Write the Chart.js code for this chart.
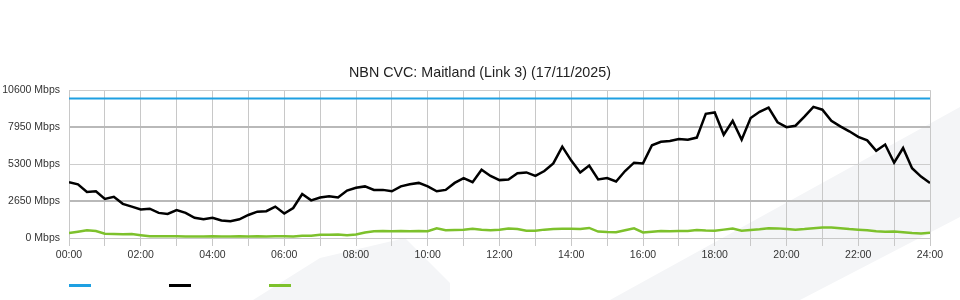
<!DOCTYPE html>
<html>
<head>
<meta charset="utf-8">
<script src="https://cdn.jsdelivr.net/npm/chart.js@4"></script>
<style>
  html, body { margin: 0; padding: 0; background: #fff; }
  #wrap { width: 960px; height: 300px; }
</style>
</head>
<body>
<div id="wrap"><canvas id="cvc"></canvas></div>
<script>
Chart.defaults.font.family = "'Liberation Sans', Arial, sans-serif";
Chart.defaults.color = '#333';

// minutes since midnight, 15 minute samples
var times = [];
for (var m = 0; m <= 1440; m += 15) times.push(m);

var hourLabels = ['00:00', '02:00', '04:00', '06:00', '08:00', '10:00', '12:00',
                  '14:00', '16:00', '18:00', '20:00', '22:00', '24:00'];
var yTicks = [0, 2650, 5300, 7950, 10600];

var capTimes = [0, 1440];
var capValues = [10000, 10000];

var trafficIn = [
  4000, 3850, 3300, 3350, 2800, 2950, 2450, 2250, 2050, 2100, 1800, 1720, 2000, 1800, 1450, 1350,
  1450, 1250, 1200, 1340, 1650, 1890, 1920, 2250, 1750, 2150, 3150, 2700, 2900, 3000, 2900, 3400,
  3600, 3700, 3450, 3450, 3350, 3700, 3850, 3950, 3700, 3350, 3450, 3950, 4300, 4000, 4900, 4450,
  4150, 4200, 4650, 4700, 4450, 4800, 5350, 6550, 5550, 4700, 5200, 4200, 4300, 4050, 4800, 5400,
  5350, 6650, 6900, 6950, 7100, 7050, 7200, 8900, 9000, 7400, 8400, 7050, 8600, 9050, 9350, 8300,
  7950, 8050, 8700, 9400, 9200, 8400, 8000, 7650, 7250, 7000, 6250, 6700, 5400, 6450, 5000, 4400,
  3950
];

var trafficOut = [
  350, 450, 550, 500, 300, 280, 260, 280, 200, 120, 120, 120, 130, 110, 110, 100,
  120, 110, 100, 130, 110, 120, 110, 130, 120, 110, 160, 170, 230, 240, 250, 200,
  250, 400, 480, 500, 480, 500, 490, 500, 480, 690, 560, 580, 600, 660, 600, 560,
  600, 680, 640, 520, 520, 600, 650, 660, 660, 650, 720, 460, 430, 420, 560, 690,
  400, 450, 500, 490, 510, 510, 570, 530, 520, 600, 680, 520, 580, 620, 700, 690,
  650, 600, 640, 700, 750, 760, 700, 640, 600, 560, 480, 450, 470, 420, 360, 330,
  380
];

function pts(xs, ys) {
  return xs.map(function (x, i) { return { x: x, y: ys[i] }; });
}

// faint watermark shapes behind the plot
var watermark = {
  id: 'watermark',
  beforeDraw: function (chart) {
    var c = chart.ctx;
    c.save();
    c.fillStyle = '#f4f5f7';
    c.beginPath();
    c.moveTo(610, 300); c.lineTo(960, 107); c.lineTo(960, 217); c.lineTo(800, 300);
    c.closePath(); c.fill();
    c.beginPath();
    c.moveTo(253, 300); c.lineTo(320, 258); c.lineTo(405, 238); c.lineTo(450, 283); c.lineTo(450, 300);
    c.closePath(); c.fill();
    c.restore();
  }
};

// legend swatches without text, aligned with the plot's left edge
var swatches = {
  id: 'swatches',
  afterDraw: function (chart) {
    var c = chart.ctx;
    var left = chart.chartArea.left;
    chart.data.datasets.forEach(function (ds, i) {
      c.fillStyle = ds.borderColor;
      c.fillRect(left + i * 100, 284, 22, 3);
    });
  }
};

new Chart(document.getElementById('cvc'), {
  type: 'line',
  data: {
    datasets: [
      {
        label: '',
        data: pts(capTimes, capValues),
        borderColor: '#1ea0e2',
        borderWidth: 2,
        pointRadius: 0
      },
      {
        label: '',
        data: pts(times, trafficIn),
        borderColor: '#000000',
        borderWidth: 2.5,
        pointRadius: 0
      },
      {
        label: '',
        data: pts(times, trafficOut),
        borderColor: '#7dc12c',
        borderWidth: 2.5,
        pointRadius: 0
      }
    ]
  },
  options: {
    responsive: true,
    maintainAspectRatio: false,
    animation: false,
    layout: { padding: { top: 0, right: 0, bottom: 38, left: 0 } },
    plugins: {
      legend: { display: false },
      tooltip: { enabled: false },
      title: {
        display: true,
        text: 'NBN CVC: Maitland (Link 3) (17/11/2025)',
        color: '#222',
        font: { size: 14.3, weight: 'normal' },
        padding: { top: 64, bottom: 9 }
      }
    },
    scales: {
      x: {
        type: 'linear',
        min: 0,
        max: 1440,
        afterFit: function (s) { s.height = 24; },
        border: { color: '#c8c8c8' },
        grid: { color: '#c8c8c8', tickLength: 8, tickColor: '#c8c8c8' },
        ticks: {
          stepSize: 60,
          autoSkip: false,
          maxRotation: 0,
          padding: 3,
          font: { size: 10.5 },
          callback: function (v) {
            return v % 120 === 0 ? hourLabels[v / 120] : '';
          }
        }
      },
      y: {
        min: 0,
        max: 10600,
        afterFit: function (s) { s.width = 69; },
        afterBuildTicks: function (s) {
          s.ticks = yTicks.map(function (v) { return { value: v }; });
        },
        border: { color: '#c8c8c8' },
        grid: {
          drawTicks: false,
          color: function (ctx) {
            var v = ctx.tick && ctx.tick.value;
            return (v === 2650 || v === 7950) ? '#b9b9b9' : '#cdcdcd';
          },
          lineWidth: function (ctx) {
            var v = ctx.tick && ctx.tick.value;
            return (v === 2650 || v === 7950) ? 2 : 1;
          }
        },
        ticks: {
          padding: 9,
          font: { size: 10.5 },
          callback: function (v) { return v + ' Mbps'; }
        }
      },
      // empty right-hand gutter so the title centres on the full canvas
      gutter: {
        type: 'linear',
        position: 'right',
        display: true,
        afterFit: function (s) { s.width = 30; },
        grid: { display: false },
        border: { display: false },
        ticks: { display: false }
      }
    }
  },
  plugins: [watermark, swatches]
});
</script>
</body>
</html>
